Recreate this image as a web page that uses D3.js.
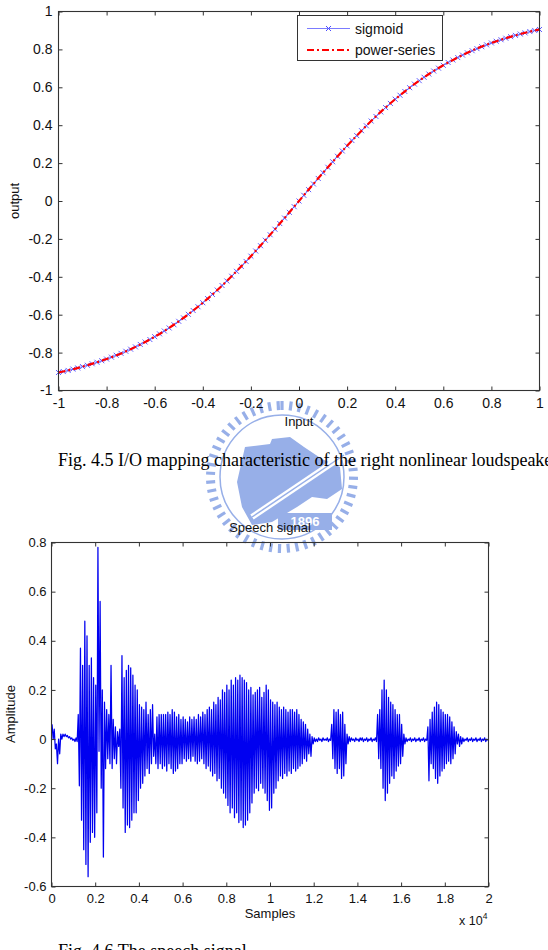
<!DOCTYPE html>
<head>
<meta charset="utf-8">
<script src="https://cdn.jsdelivr.net/npm/d3@7"></script>
<style>
  body { margin: 0; background: #fff }
  svg { display: block; background: #fff }
  text { font-family: "Liberation Sans", Arial, sans-serif }
  .cap { font-family: "Liberation Serif", "Times New Roman", serif; font-size: 18px; fill: #000 }
</style>
</head>
<body>
<svg width="548" height="950"></svg>
<script>
// ---- Fig 4.5 : I/O mapping (x from -1 to 1)
var ioTicks = [-1, -0.8, -0.6, -0.4, -0.2, 0, 0.2, 0.4, 0.6, 0.8, 1]
var sigmoidStep = 0.02
var sigmoidOut = [-.905,-.900,-.894,-.887,-.881,-.874,-.867,-.859,-.851,-.843,
  -.834,-.824,-.814,-.804,-.793,-.782,-.770,-.757,-.744,-.731,
  -.716,-.701,-.686,-.670,-.653,-.635,-.617,-.598,-.578,-.558,
  -.537,-.515,-.493,-.470,-.446,-.422,-.397,-.371,-.345,-.319,
  -.291,-.264,-.236,-.207,-.178,-.149,-.119,-.090,-.060,-.030,
  0,
  .030,.060,.090,.119,.149,.178,.207,.236,.264,.291,
  .319,.345,.371,.397,.422,.446,.470,.493,.515,.537,
  .558,.578,.598,.617,.635,.653,.670,.686,.701,.716,
  .731,.744,.757,.770,.782,.793,.804,.814,.824,.834,
  .843,.851,.859,.867,.874,.881,.887,.894,.900,.905]
var powerStep = 0.05
var powerOut = [-.905,-.891,-.874,-.855,-.834,-.810,-.782,-.751,-.716,-.678,
  -.635,-.588,-.537,-.482,-.422,-.358,-.291,-.221,-.149,-.075,
  0,
  .075,.149,.221,.291,.358,.422,.482,.537,.588,.635,
  .678,.716,.751,.782,.810,.834,.855,.874,.891,.905]
var legendNames = ['sigmoid', 'power-series']

// ---- Fig 4.6 : speech signal, peak per block of 100 samples
var sampleTicks = [0, 2000, 4000, 6000, 8000, 10000, 12000, 14000, 16000, 18000, 20000]
var ampTicks = [-0.6, -0.4, -0.2, 0, 0.2, 0.4, 0.6, 0.8]
var blockSize = 100
var peakHi = [.06,.04,-.02,0,.02,.02,.02,.015,.01,.005,
  0,.005,.10,.37,.30,.48,.42,.30,.33,.25,
  .22,.78,.56,.20,.15,.12,.10,.30,.08,.05,
  .03,.04,.34,.25,.28,.30,.29,.26,.22,.20,
  .14,.13,.12,.15,.10,.12,.14,.02,.09,.10,
  .10,.10,.10,.11,.10,.12,.11,.09,.10,.08,
  .09,.08,.07,.09,.08,.09,.08,.10,.09,.11,
  .10,.12,.13,.12,.15,.14,.17,.16,.20,.19,
  .22,.20,.24,.22,.25,.24,.26,.25,.24,.23,
  .20,.21,.18,.19,.20,.21,.17,.19,.22,.20,
  .16,.15,.14,.15,.13,.12,.13,.12,.11,.12,
  .12,.11,.12,.10,.08,.07,.06,.04,.02,.01,
  .005,0,.005,0,.005,0,.005,0,.06,.12,
  .11,.12,.10,.11,.06,.02,.01,.005,0,.005,
  0,.005,.005,0,.005,0,.005,0,.005,.10,
  .12,.20,.24,.20,.17,.15,.14,.12,.10,.10,
  .06,.02,.005,0,.005,0,.005,0,.005,0,
  .005,0,.05,.08,.11,.13,.15,.14,.12,.11,
  .10,.10,.09,.07,.05,.03,.02,.01,.005,0,
  .005,0,.005,0,.005,0,.005,0,.005,0]
var peakLo = [0,-.04,-.10,-.06,0,.01,.01,.005,0,-.005,
  -.01,-.01,-.19,-.33,-.45,-.51,-.56,-.42,-.38,-.40,
  -.30,-.05,-.20,-.48,-.12,-.08,-.10,-.12,-.08,-.10,
  -.03,-.20,-.28,-.38,-.35,-.36,-.33,-.30,-.30,-.25,
  -.20,-.18,-.15,-.12,-.14,-.10,-.07,-.10,-.12,-.10,
  -.12,-.11,-.13,-.10,-.12,-.14,-.13,-.12,-.10,-.10,
  -.08,-.09,-.08,-.09,-.07,-.09,-.10,-.09,-.08,-.10,
  -.12,-.11,-.13,-.15,-.14,-.17,-.16,-.20,-.22,-.24,
  -.27,-.30,-.28,-.32,-.30,-.34,-.33,-.36,-.35,-.33,
  -.30,-.26,-.22,-.20,-.21,-.18,-.20,-.22,-.25,-.29,
  -.28,-.22,-.20,-.17,-.15,-.16,-.14,-.15,-.13,-.14,
  -.12,-.13,-.12,-.11,-.10,-.08,-.09,-.06,-.07,-.02,
  -.01,-.01,-.005,-.01,-.005,-.005,-.01,-.005,-.08,-.12,
  -.14,-.12,-.16,-.15,-.10,-.02,-.01,-.005,-.01,-.005,
  -.01,-.005,-.01,-.005,-.01,-.005,-.01,-.005,-.01,-.08,
  -.12,-.20,-.25,-.22,-.18,-.15,-.16,-.13,-.11,-.10,
  -.07,-.02,-.01,-.005,-.01,-.005,-.01,-.005,-.01,-.005,
  -.01,-.005,-.17,-.10,-.12,-.16,-.18,-.15,-.13,-.12,
  -.10,-.09,-.10,-.08,-.06,-.02,-.03,-.02,-.01,-.005,
  -.01,-.005,-.01,-.005,-.01,-.005,-.01,-.005,-.01,-.005]

var svg = d3.select('svg')
var ink = '#333'
var fmt = function (d) { return String(+d.toFixed(1)) }

// faint university seal behind the captions
var wm = '#97afe8'
var seal = svg.append('g').attr('transform', 'translate(282,477)')
seal.selectAll('rect.tooth').data(d3.range(0, 360, 7))
  .enter().append('rect')
  .attr('x', -1.6).attr('y', -76).attr('width', 3.2).attr('height', 9)
  .attr('fill', wm)
  .attr('transform', function (a) { return 'rotate(' + a + ')' })
seal.append('circle').attr('r', 62).attr('fill', 'none').attr('stroke', wm).attr('stroke-width', 1.5)
seal.append('path')
  .attr('d', 'M-37,-30 L-12,-33 L-10,-38 L8,-40 L22,-30 L40,-18 L58,-10 L60,12 L45,22 L30,20 L15,30 L-10,45 L-30,48 L-40,30 L-45,5 Z')
  .attr('fill', wm)
seal.append('path').attr('d', 'M-30,40 L62,-22').attr('stroke', '#fff').attr('stroke-width', 6)
seal.append('path').attr('d', 'M-30,40 L62,-22').attr('stroke', wm).attr('stroke-width', 1.5)
seal.append('rect').attr('x', -4).attr('y', 36).attr('width', 54).attr('height', 17).attr('fill', wm)
seal.append('text').attr('x', 23).attr('y', 49).attr('text-anchor', 'middle')
  .attr('font-size', 13).attr('font-weight', 'bold').attr('fill', '#fff').text('1896')

function matlabAxes(g, x, y, o) {
  var x0 = x.range()[0], x1 = x.range()[1], y0 = y.range()[1], y1 = y.range()[0]
  g.append('g').attr('transform', 'translate(0,' + y1 + ')')
    .call(d3.axisBottom(x).tickValues(o.xt).tickFormat(o.xf).tickSizeInner(-4).tickSizeOuter(0).tickPadding(o.px))
  g.append('g').attr('transform', 'translate(0,' + y0 + ')')
    .call(d3.axisTop(x).tickValues(o.xt).tickFormat('').tickSizeInner(-4).tickSizeOuter(0))
  g.append('g').attr('transform', 'translate(' + x0 + ',0)')
    .call(d3.axisLeft(y).tickValues(o.yt).tickFormat(fmt).tickSizeInner(-4).tickSizeOuter(0).tickPadding(o.py))
  g.append('g').attr('transform', 'translate(' + x1 + ',0)')
    .call(d3.axisRight(y).tickValues(o.yt).tickFormat('').tickSizeInner(-4).tickSizeOuter(0))
  g.selectAll('.domain').remove()
  g.selectAll('g').attr('font-size', o.fs).attr('color', ink)
  g.selectAll('.tick text').attr('fill', '#111')
  g.append('rect').attr('x', x0).attr('y', y0).attr('width', x1 - x0).attr('height', y1 - y0)
    .attr('fill', 'none').attr('stroke', ink).attr('stroke-width', 1.1)
}

// ---------- top chart
var xa = d3.scaleLinear().domain([-1, 1]).range([58.5, 539.5])
var ya = d3.scaleLinear().domain([-1, 1]).range([390.5, 11.5])
var plotA = svg.append('g')

var sig = sigmoidOut.map(function (v, i) { return [-1 + i * sigmoidStep, v] })
var pow = powerOut.map(function (v, i) { return [-1 + i * powerStep, v] })
var lineA = d3.line().x(function (d) { return xa(d[0]) }).y(function (d) { return ya(d[1]) })
var cross = 'M-2.5,-2.5L2.5,2.5M-2.5,2.5L2.5,-2.5'

plotA.append('path').datum(sig).attr('d', lineA).attr('fill', 'none').attr('stroke', '#7b7bff').attr('stroke-width', 1)
plotA.selectAll('path.mk').data(sig).enter().append('path').attr('class', 'mk')
  .attr('d', cross).attr('stroke', '#4c4cff').attr('stroke-width', 0.9)
  .attr('transform', function (d) { return 'translate(' + xa(d[0]) + ',' + ya(d[1]) + ')' })
plotA.append('path').datum(pow).attr('d', lineA.curve(d3.curveMonotoneX)).attr('fill', 'none')
  .attr('stroke', '#f00').attr('stroke-width', 2.2).attr('stroke-dasharray', '7,3,2,3')

matlabAxes(plotA, xa, ya, { xt: ioTicks, yt: ioTicks, xf: fmt, px: 8, py: 6, fs: 14 })

var leg = plotA.append('g')
leg.append('rect').attr('x', 297.5).attr('y', 15.5).attr('width', 145).attr('height', 45)
  .attr('fill', '#fff').attr('stroke', ink)
leg.append('line').attr('x1', 307).attr('x2', 350).attr('y1', 28.5).attr('y2', 28.5).attr('stroke', '#7b7bff')
leg.append('path').attr('d', cross).attr('stroke', '#4c4cff').attr('transform', 'translate(328.5,28.5)')
leg.append('line').attr('x1', 307).attr('x2', 350).attr('y1', 50).attr('y2', 50)
  .attr('stroke', '#f00').attr('stroke-width', 2.2).attr('stroke-dasharray', '7,3,2,3')
leg.selectAll('text').data(legendNames).enter().append('text')
  .attr('x', 355).attr('y', function (d, i) { return i ? 55 : 34 })
  .attr('font-size', 14).attr('fill', '#111').text(function (d) { return d })

plotA.append('text').attr('x', 299).attr('y', 426).attr('text-anchor', 'middle').attr('font-size', 13).attr('fill', '#111').text('Input')
plotA.append('text').attr('transform', 'translate(19,201) rotate(-90)').attr('text-anchor', 'middle')
  .attr('font-size', 13).attr('fill', '#111').text('output')

svg.append('text').attr('class', 'cap').attr('x', 58).attr('y', 466)
  .text('Fig. 4.5 I/O mapping characteristic of the right nonlinear loudspeaker')

// ---------- bottom chart
var xb = d3.scaleLinear().domain([0, 20000]).range([51.5, 488.5])
var yb = d3.scaleLinear().domain([-0.6, 0.8]).range([886.5, 542.5])
var plotB = svg.append('g')

var wave = []
peakHi.forEach(function (v, i) {
  wave.push([i * blockSize + 25, v])
  wave.push([i * blockSize + 75, peakLo[i]])
})
plotB.append('path').datum(wave)
  .attr('d', d3.line().x(function (d) { return xb(d[0]) }).y(function (d) { return yb(d[1]) }))
  .attr('fill', 'none').attr('stroke', '#0000f0').attr('stroke-width', 1.25)
  .attr('stroke-linejoin', 'round')

matlabAxes(plotB, xb, yb, {
  xt: sampleTicks, yt: ampTicks, xf: function (d) { return fmt(d / 10000) }, px: 7, py: 5, fs: 13
})

plotB.append('text').attr('x', 270).attr('y', 532).attr('text-anchor', 'middle').attr('font-size', 13).attr('fill', '#111').text('Speech signal')
plotB.append('text').attr('x', 270).attr('y', 918).attr('text-anchor', 'middle').attr('font-size', 13).attr('fill', '#111').text('Samples')
plotB.append('text').attr('transform', 'translate(15,714) rotate(-90)').attr('text-anchor', 'middle')
  .attr('font-size', 13).attr('fill', '#111').text('Amplitude')
var mult = plotB.append('text').attr('x', 459).attr('y', 925).attr('font-size', 12.5).attr('fill', '#111').text('x 10')
mult.append('tspan').attr('dy', -6).attr('font-size', 8.5).text('4')

svg.append('text').attr('class', 'cap').attr('x', 58).attr('y', 957).text('Fig. 4.6 The speech signal')
</script>
</body>
